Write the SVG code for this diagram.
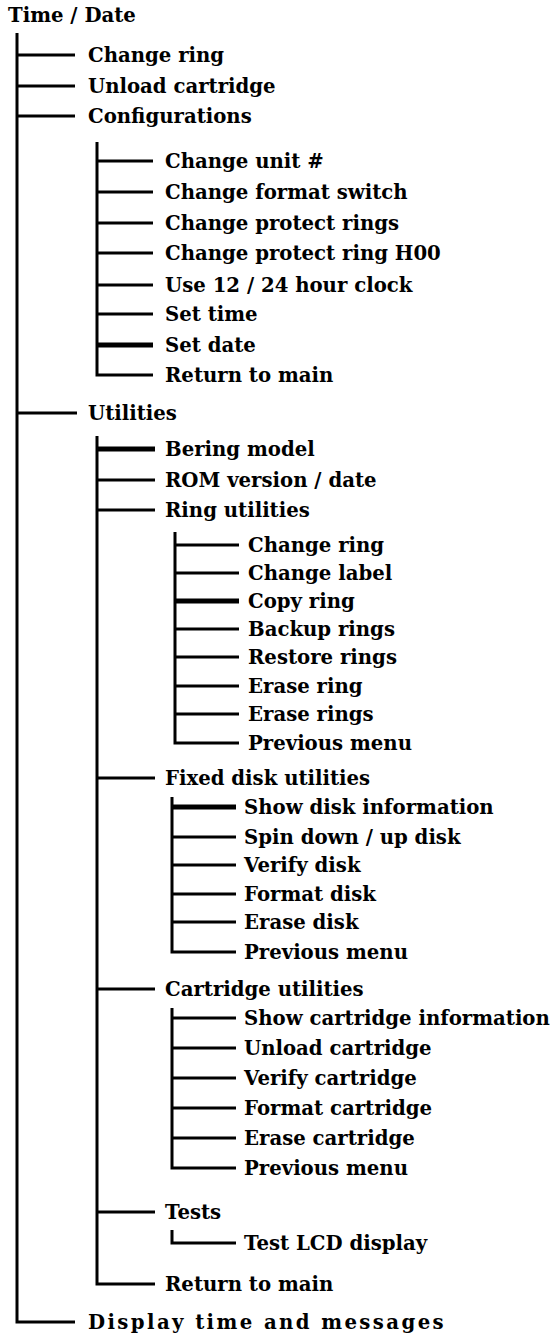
<svg xmlns="http://www.w3.org/2000/svg" width="553" height="1337" viewBox="0 0 553 1337">
<style>
text{font-family:"DejaVu Serif","Liberation Serif",serif;font-weight:bold;font-size:19.7px;fill:#000}
.c{fill:none;stroke:#000;stroke-width:3;stroke-linecap:butt}
.k{stroke-width:5}
.w{letter-spacing:2.4px}
</style>
<rect width="553" height="1337" fill="#fff"/>
<g id="connectors">
<path class="c" d="M17 33V1322H75"/>
<path class="c" d="M17 55H75M17 86H75M17 116H75M17 413H77"/>
<path class="c" d="M97 142V375H153"/>
<path class="c" d="M97 161H153M97 192H153M97 223H153M97 253H153M97 285H153M97 314H153"/>
<path class="c k" d="M97 345H153"/>
<path class="c" d="M97 436V1284H155"/>
<path class="c k" d="M97 449H155"/>
<path class="c" d="M97 480H155M97 510H155M97 778H155M97 989H155M97 1212H155"/>
<path class="c" d="M175 532V743H239"/>
<path class="c" d="M175 545H239M175 573H239M175 629H239M175 657H239M175 686H239M175 714H239"/>
<path class="c k" d="M175 601H239"/>
<path class="c" d="M172 797V952H236"/>
<path class="c k" d="M172 807H236"/>
<path class="c" d="M172 837H236M172 865H236M172 894H236M172 922H236"/>
<path class="c" d="M172 1008V1168H236"/>
<path class="c" d="M172 1018H236M172 1048H236M172 1078H236M172 1108H236M172 1138H236"/>
<path class="c" d="M172 1230V1243H236"/>
</g>
<g id="root"><text x="8" y="22">Time / Date</text></g>
<g id="n-change-ring"><text x="88" y="62">Change ring</text></g>
<g id="n-unload-cartridge"><text x="88" y="93">Unload cartridge</text></g>
<g id="n-configurations"><text x="88" y="123">Configurations</text></g>
<g id="n-cfg-unit"><text x="165" y="168">Change unit #</text></g>
<g id="n-cfg-format"><text x="165" y="199">Change format switch</text></g>
<g id="n-cfg-protect"><text x="165" y="230">Change protect rings</text></g>
<g id="n-cfg-h00"><text x="165" y="260">Change protect ring H00</text></g>
<g id="n-cfg-clock"><text x="165" y="292">Use 12 / 24 hour clock</text></g>
<g id="n-cfg-time"><text x="165" y="321">Set time</text></g>
<g id="n-cfg-date"><text x="165" y="352">Set date</text></g>
<g id="n-cfg-return"><text x="165" y="382">Return to main</text></g>
<g id="n-utilities"><text x="88" y="420">Utilities</text></g>
<g id="n-bering"><text x="165" y="456">Bering model</text></g>
<g id="n-rom"><text x="165" y="487">ROM version / date</text></g>
<g id="n-ring-utils"><text x="165" y="517">Ring utilities</text></g>
<g id="n-r-change"><text x="248" y="552">Change ring</text></g>
<g id="n-r-label"><text x="248" y="580">Change label</text></g>
<g id="n-r-copy"><text x="248" y="608">Copy ring</text></g>
<g id="n-r-backup"><text x="248" y="636">Backup rings</text></g>
<g id="n-r-restore"><text x="248" y="664">Restore rings</text></g>
<g id="n-r-erase"><text x="248" y="693">Erase ring</text></g>
<g id="n-r-erases"><text x="248" y="721">Erase rings</text></g>
<g id="n-r-prev"><text x="248" y="750">Previous menu</text></g>
<g id="n-fixed"><text x="165" y="785">Fixed disk utilities</text></g>
<g id="n-f-show"><text x="244" y="814">Show disk information</text></g>
<g id="n-f-spin"><text x="244" y="844">Spin down / up disk</text></g>
<g id="n-f-verify"><text x="244" y="872">Verify disk</text></g>
<g id="n-f-format"><text x="244" y="901">Format disk</text></g>
<g id="n-f-erase"><text x="244" y="929">Erase disk</text></g>
<g id="n-f-prev"><text x="244" y="959">Previous menu</text></g>
<g id="n-cart"><text x="165" y="996">Cartridge utilities</text></g>
<g id="n-c-show"><text x="244" y="1025">Show cartridge information</text></g>
<g id="n-c-unload"><text x="244" y="1055">Unload cartridge</text></g>
<g id="n-c-verify"><text x="244" y="1085">Verify cartridge</text></g>
<g id="n-c-format"><text x="244" y="1115">Format cartridge</text></g>
<g id="n-c-erase"><text x="244" y="1145">Erase cartridge</text></g>
<g id="n-c-prev"><text x="244" y="1175">Previous menu</text></g>
<g id="n-tests"><text x="165" y="1219">Tests</text></g>
<g id="n-t-lcd"><text x="244" y="1250">Test LCD display</text></g>
<g id="n-u-return"><text x="165" y="1291">Return to main</text></g>
<g id="n-display"><text class="w" x="88" y="1329">Display time and messages</text></g>
</svg>
